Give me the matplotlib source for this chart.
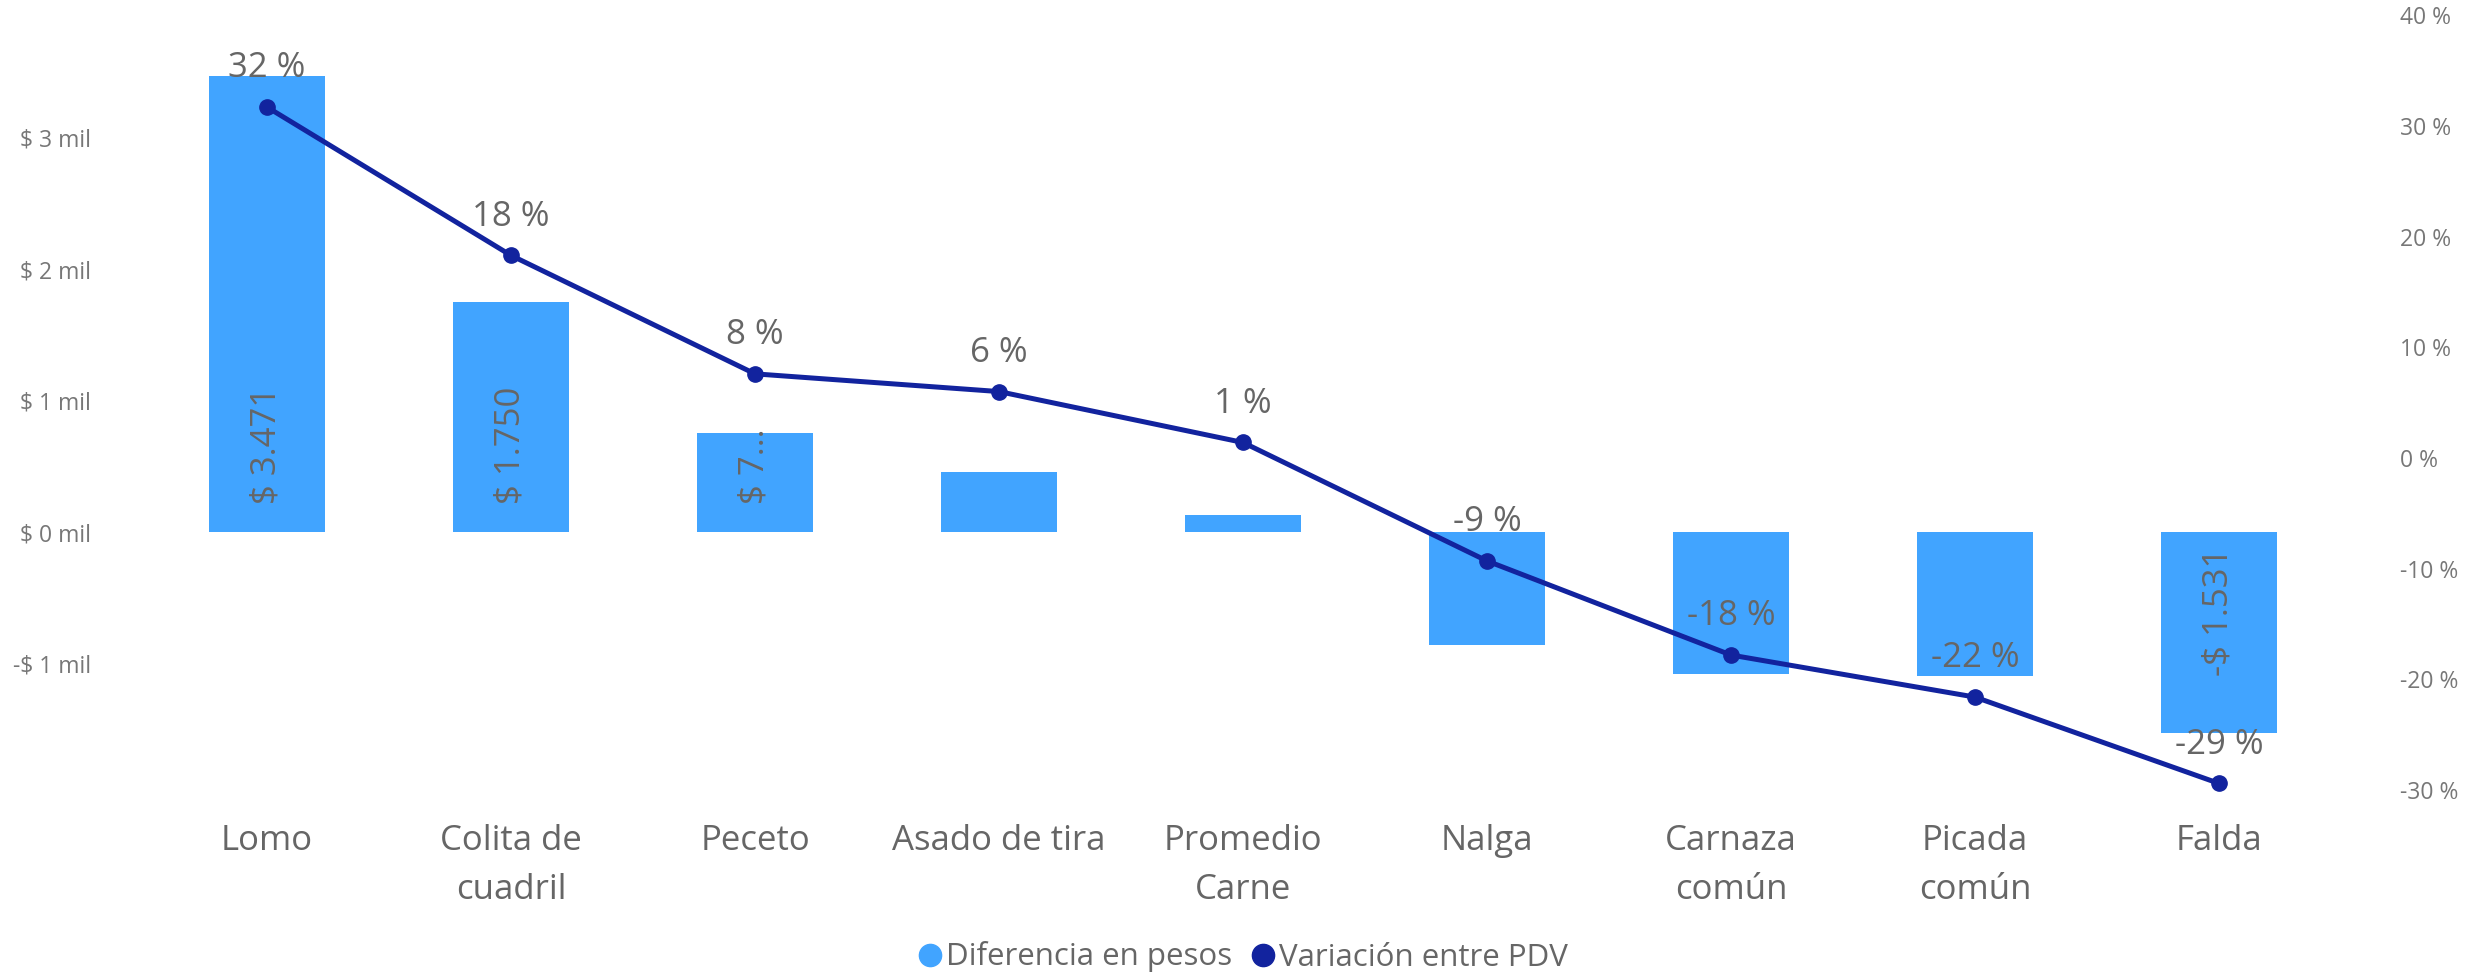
import matplotlib
matplotlib.use("Agg")
import matplotlib.pyplot as plt
from matplotlib.lines import Line2D
from matplotlib.ticker import FuncFormatter

plt.rcParams['font.family'] = ['Open Sans', 'DejaVu Sans']

# datos
categorias = ["Lomo", "Colita de\ncuadril", "Peceto", "Asado de tira", "Promedio\nCarne",
              "Nalga", "Carnaza\ncomún", "Picada\ncomún", "Falda"]
diferencia = [3471, 1750, 752, 460, 130, -857, -1077, -1093, -1531]
variacion = [31.7, 18.3, 7.6, 6.0, 1.4, -9.3, -17.8, -21.6, -29.4]
etiquetas_var = ["32 %", "18 %", "8 %", "6 %", "1 %", "-9 %", "-18 %", "-22 %", "-29 %"]
etiquetas_dif = ["$ 3.471", "$ 1.750", "$ 7…", "", "", "", "", "", "-$ 1.531"]

color_barra = '#41A4FF'
color_linea = '#12239E'
gris = '#666666'

W, H = 2485, 977
fig = plt.figure(figsize=(W / 100, H / 100), dpi=100)
ax = fig.add_axes([145 / W, 1 - 810 / H, (2341 - 145) / W, 800 / H])
ax2 = ax.twinx()

x = list(range(len(categorias)))
ax.bar(x, diferencia, width=0.474, color=color_barra)
ax.set_xlim(-0.5, len(categorias) - 0.5)
ax.set_ylim(-2114, 3970)
ax.set_yticks([-1000, 0, 1000, 2000, 3000])
ax.yaxis.set_major_formatter(FuncFormatter(
    lambda v, p: f"-$ {abs(v) / 1000:.0f} mil" if v < 0 else f"$ {v / 1000:.0f} mil"))
ax.set_xticks(x)
ax.set_xticklabels(categorias, fontsize=25, color=gris, linespacing=1.6)
ax.tick_params(axis='x', length=0, pad=10)
ax.tick_params(axis='y', length=0, pad=39, labelsize=16.5, labelcolor='#777777')

# etiquetas verticales dentro de las barras
for i, (v, t) in enumerate(zip(diferencia, etiquetas_dif)):
    if not t:
        continue
    if v >= 0:
        ax.annotate(t, (i, 0), xytext=(0, 20), textcoords='offset points', rotation=90,
                    ha='center', va='bottom', fontsize=25, color=gris)
    else:
        ax.annotate(t, (i, 0), xytext=(0, -11), textcoords='offset points', rotation=90,
                    ha='center', va='top', fontsize=25, color=gris)

ax2.plot(x, variacion, color=color_linea, lw=3.6, marker='o', markersize=11)
ax2.set_ylim(-31.8, 40.47)
ax2.set_yticks(range(-30, 41, 10))
ax2.set_yticklabels([f"{v} %" for v in range(-30, 41, 10)])
ax2.tick_params(axis='y', length=0, pad=42.5, labelsize=16.5, labelcolor='#777777')
for i, (v, t) in enumerate(zip(variacion, etiquetas_var)):
    ax2.annotate(t, (i, v), xytext=(0, 28), textcoords='offset points',
                 ha='center', va='center', fontsize=25, color=gris)

for a in (ax, ax2):
    for s in a.spines.values():
        s.set_visible(False)

handles = [Line2D([], [], ls='', marker='o', markersize=16, color=color_barra),
           Line2D([], [], ls='', marker='o', markersize=16, color=color_linea)]
fig.legend(handles, ["Diferencia en pesos", "Variación entre PDV"], loc='center',
           bbox_to_anchor=(0.5, 1 - 957 / H), ncol=2, frameon=False, fontsize=22.5,
           labelcolor=gris, handletextpad=0.1, columnspacing=0.6, handlelength=0.8)

fig.savefig("out.png", dpi=100)
